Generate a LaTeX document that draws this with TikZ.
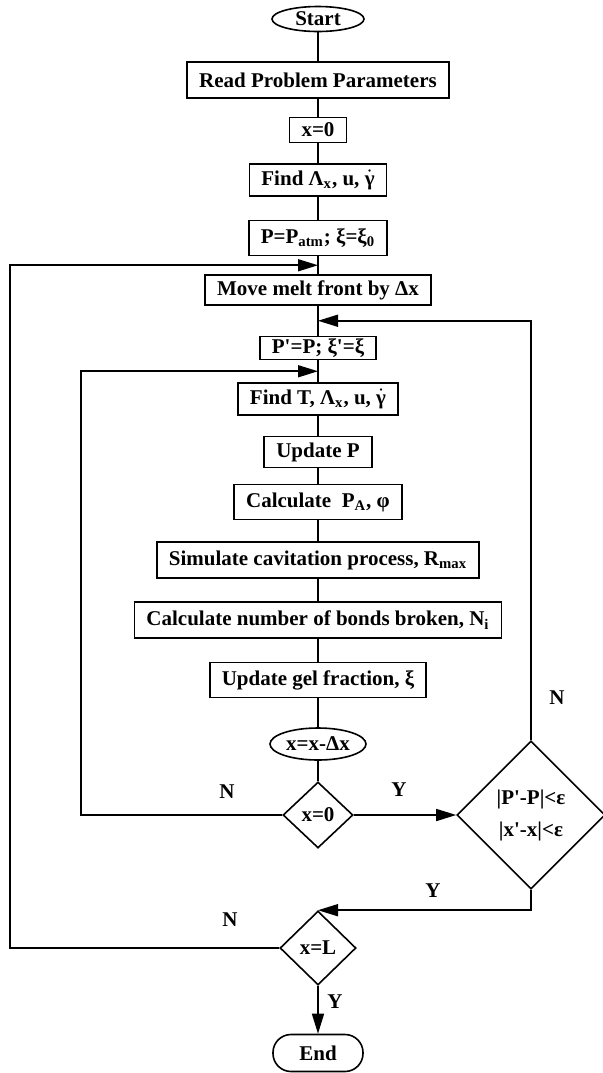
\documentclass[tikz,border=0pt]{standalone}
\usepackage{fontspec}
\setmainfont{Liberation Serif}
\usetikzlibrary{shapes.geometric,arrows.meta,calc}
\newcommand{\gdot}{$\dot{\hbox{γ}}$}
\newcommand{\pr}{\textquotesingle}

\begin{document}
\begin{tikzpicture}[x=0.5pt, y=-0.5pt, line width=0.8pt,
  every node/.style={font=\fontsize{10.5}{12.6}\selectfont\bfseries},
  box/.style={draw, rectangle, inner xsep=6pt, inner ysep=0pt, minimum height=16pt},
  oval/.style={draw, ellipse, inner sep=0pt, minimum width=48pt, minimum height=16pt},
  test/.style={draw, diamond, inner sep=0pt},
  arr/.style={-{Triangle[length=10pt,width=6pt]}}
]
\useasboundingbox (0,0) rectangle (603,1073);
\node[oval, minimum width=46pt, minimum height=12.5pt] (start) at (318,19) {Start};
\node[box, minimum height=18pt] (read) at (318,80) {Read Problem Parameters};
\node[box, minimum height=12.5pt] (init) at (318,130) {x=0};
\node[box] (findA) at (318,180) {Find Λ\textsubscript{x}, u, \gdot};
\node[box, minimum height=17.5pt] (patm) at (318,238) {P=P\textsubscript{atm}; ξ=ξ\textsubscript{0}};
\node[box, minimum height=15pt] (move) at (318,290) {Move melt front by Δx};
\node[box, minimum height=11.5pt] (prev) at (318,348) {P\pr=P; ξ\pr=ξ};
\node[box] (findT) at (318,399) {Find T, Λ\textsubscript{x}, u, \gdot};
\node[box, minimum height=15.5pt] (updP) at (318,452) {Update P};
\node[box, minimum height=17.5pt] (calcPA) at (318,502) {Calculate\ \ P\textsubscript{A}, φ};
\node[box, minimum height=18pt] (sim) at (318,560) {Simulate cavitation process, R\textsubscript{max}};
\node[box, minimum height=18pt] (bonds) at (318,620) {Calculate number of bonds broken, N\textsubscript{i}};
\node[box, minimum height=17.5pt] (gel) at (318,680) {Update gel fraction, ξ};
\node[oval] (dec) at (318,744) {x=x-Δx};
\node[test, minimum width=35pt, minimum height=33pt] (atzero) at (318,815) {x=0};
\node[test, minimum width=74pt, minimum height=74pt, align=center] (conv) at (531,815) {|P\pr-P|<ε\\[3.4pt]|x\pr-x|<ε};
\node[test, minimum width=38pt, minimum height=37pt] (atL) at (318,948) {x=L};
\node[draw, rounded corners=9pt, minimum width=45pt, minimum height=18.5pt] (end) at (318,1053) {End};

\coordinate (outerx) at (10,0);
\coordinate (innerx) at (81,0);
\coordinate (outerin) at ($(patm.south)!.5!(move.north)$);
\coordinate (backin) at ($(move.south)!.5!(prev.north)$);
\coordinate (innerin) at ($(prev.south)!.5!(findT.north)$);

\draw (start) -- (read) -- (init) -- (findA) -- (patm) -- (move) -- (prev) -- (findT)
  -- (updP) -- (calcPA) -- (sim) -- (bonds) -- (gel) -- (dec) -- (atzero);
\draw[arr] (atzero.east) -- (conv.west);
\draw[arr] (atzero.west) -| (innerx |- innerin) -- (innerin);
\draw[arr] (conv.north) |- (backin);
\draw[arr] (conv.south) |- (atL.north);
\draw[arr] (atL.west) -| (outerx |- outerin) -- (outerin);
\draw[arr] (atL) -- (end);

\node (noA) at (227,792) {N};
\node (yesA) at (399,790) {Y};
\node (noC) at (557,698) {N};
\node (yesC) at (433,891) {Y};
\node (noL) at (230,920) {N};
\node (yesL) at (335,1002) {Y};
\end{tikzpicture}
\end{document}
